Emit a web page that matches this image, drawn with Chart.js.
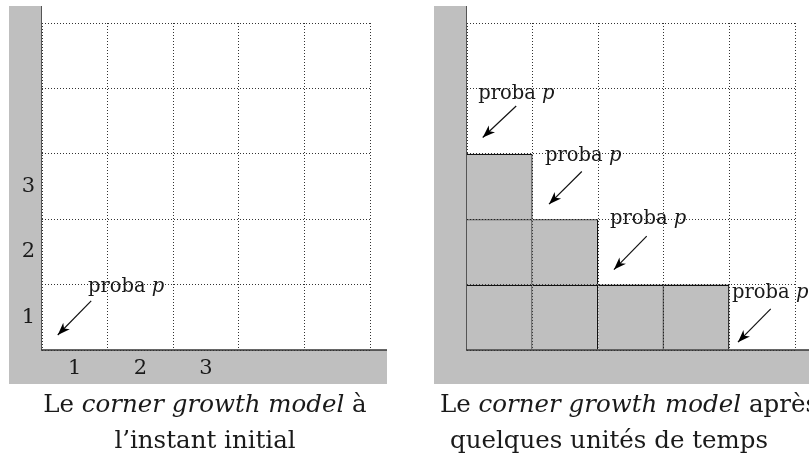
<!DOCTYPE html>
<html>
<head>
<meta charset="utf-8">
<script src="https://cdn.jsdelivr.net/npm/chart.js@4/dist/chart.umd.min.js"></script>
<style>
  html, body { margin:0; padding:0; background:#fff; }
  body { width:809px; height:464px; overflow:hidden; position:relative; font-family:"DejaVu Serif", serif; color:#1a1a1a; }
  canvas { position:absolute; top:0; }
  #cA { left:0; }
  #cB { left:420px; }
  .cap { position:absolute; font-size:24.5px; line-height:36px; height:36px; text-align:center; white-space:nowrap; }
  .l1 { top:386px; }
  .l2 { top:422px; }
  #capA1 { left:5px; width:400px; }
  #capA2 { left:5px; width:400px; }
  #capB1 { left:429px; width:400px; }
  #capB2 { left:409px; width:400px; }
</style>
</head>
<body>
<canvas id="cA" width="400" height="400"></canvas>
<canvas id="cB" width="389" height="400"></canvas>
<div class="cap l1" id="capA1">Le <i>corner growth model</i> à</div>
<div class="cap l2" id="capA2">l’instant initial</div>
<div class="cap l1" id="capB1">Le <i>corner growth model</i> après</div>
<div class="cap l2" id="capB2">quelques unités de temps</div>
<script>
// ---- data ----
const gridMax = 5;                       // 5 x 5 lattice of unit cells
const tickPositions = [0.5, 1.5, 2.5];   // label positions (cell centres)
const tickLabels = ['1', '2', '3'];
const initialHeights = [];               // column heights at t = 0
const laterHeights = [3, 2, 1, 1];       // column heights after some time
const initialArrowTails = [[0.75, 0.75]];
const initialArrowTips  = [[0.24, 0.23]];
const initialLabelPos   = [[0.70, 0.96]];
const laterArrowTails = [[0.75, 3.73], [1.75, 2.73], [2.74, 1.74], [4.63, 0.63]];
const laterArrowTips  = [[0.24, 3.25], [1.25, 2.23], [2.24, 1.23], [4.13, 0.12]];
const laterLabelPos   = [[0.17, 3.92], [1.19, 2.96], [2.18, 2.01], [4.04, 0.88]];
const labelWord = 'proba ';
const labelVar = 'p';

// ---- helpers ----
const GRAY = '#bfbfbf';
const FONT = '"DejaVu Serif", serif';

function cellRows(heights) {
  const rows = [];
  const maxH = Math.max(0, ...heights);
  for (let r = 1; r <= maxH; r++) {
    rows.push(heights.map((h, i) => h >= r ? {x: i + 0.5, y: [r - 1, r]} : null).filter(Boolean));
  }
  return rows;
}

function framePlugin(extendTop, extendRight) {
  return {
    id: 'frame',
    beforeDraw(chart) {
      const {ctx, chartArea: ca, scales} = chart;
      const yl = scales.yl, xl = scales.xl;
      const stripL = yl.left, stripB = xl.bottom;
      const top = ca.top - extendTop;
      const right = extendRight === null ? chart.width : ca.right + extendRight;
      ctx.save();
      ctx.fillStyle = GRAY;
      ctx.fillRect(stripL, top, ca.left - stripL, stripB - top);
      ctx.fillRect(stripL, ca.bottom, right - stripL, stripB - ca.bottom);
      ctx.restore();
    },
    afterDatasetsDraw(chart) {
      const {ctx, chartArea: ca} = chart;
      const right = extendRight === null ? chart.width : ca.right + extendRight;
      ctx.save();
      ctx.strokeStyle = '#555';
      ctx.lineWidth = 1;
      ctx.beginPath();
      ctx.moveTo(ca.left - 0.5, ca.top - extendTop);
      ctx.lineTo(ca.left - 0.5, ca.bottom);
      ctx.stroke();
      ctx.strokeStyle = '#333';
      ctx.lineWidth = 1.5;
      ctx.beginPath();
      ctx.moveTo(ca.left - 1, ca.bottom);
      ctx.lineTo(right, ca.bottom);
      ctx.stroke();
      ctx.restore();
    }
  };
}

function annotPlugin(labelPos) {
  return {
    id: 'annot',
    afterDatasetsDraw(chart) {
      const {ctx, scales} = chart;
      ctx.save();
      // arrow heads
      chart.data.datasets.forEach((ds, i) => {
        if (!ds.isArrow) return;
        const pts = chart.getDatasetMeta(i).data;
        const a = pts[0], b = pts[1];
        let dx = b.x - a.x, dy = b.y - a.y;
        const len = Math.hypot(dx, dy); dx /= len; dy /= len;
        const nx = -dy, ny = dx;
        const L = 12.5, W = 4.6;
        ctx.fillStyle = '#000';
        ctx.beginPath();
        ctx.moveTo(b.x, b.y);
        ctx.lineTo(b.x - dx * L + nx * W, b.y - dy * L + ny * W);
        ctx.lineTo(b.x - dx * L * 0.72, b.y - dy * L * 0.72);
        ctx.lineTo(b.x - dx * L - nx * W, b.y - dy * L - ny * W);
        ctx.closePath();
        ctx.fill();
      });
      // labels
      ctx.fillStyle = '#1a1a1a';
      ctx.textBaseline = 'middle';
      ctx.textAlign = 'left';
      labelPos.forEach(p => {
        const px = scales.x.getPixelForValue(p[0]);
        const py = scales.y.getPixelForValue(p[1]);
        ctx.font = '19.5px ' + FONT;
        ctx.fillText(labelWord, px, py);
        const w = ctx.measureText(labelWord).width;
        ctx.font = 'italic 19.5px ' + FONT;
        ctx.fillText(labelVar, px + w, py);
      });
      ctx.restore();
    }
  };
}

function buildChart(id, heights, tails, tips, labelPos, showTicks, padding, extendRight) {
  const datasets = [];
  cellRows(heights).forEach(rowData => datasets.push({
    type: 'bar', data: rowData, backgroundColor: GRAY, borderColor: '#111',
    borderWidth: {top: 1.3, right: 1.3, bottom: 0, left: 0}, borderSkipped: false,
    grouped: false, barPercentage: 1, categoryPercentage: 1, inflateAmount: 0,
    xAxisID: 'x', yAxisID: 'y'
  }));
  tails.forEach((t, i) => datasets.push({
    type: 'line', isArrow: true,
    data: [{x: t[0], y: t[1]}, {x: tips[i][0], y: tips[i][1]}],
    borderColor: '#111', borderWidth: 1.2, pointRadius: 0, fill: false, tension: 0,
    xAxisID: 'x', yAxisID: 'y'
  }));
  const gridAxis = (pos) => ({
    type: 'linear', position: pos, min: 0, max: gridMax, offset: false,
    ticks: {display: false, stepSize: 1},
    grid: {display: true, color: '#333', lineWidth: 1, drawTicks: false, offset: false},
    border: {display: false, dash: [1, 2]},
    afterFit: s => { if (pos === 'bottom') s.height = 0; else s.width = 0; }
  });
  const labelAxis = (pos) => ({
    type: 'linear', position: pos, min: 0, max: gridMax, offset: false,
    afterBuildTicks: s => { s.ticks = (showTicks ? tickPositions : []).map(v => ({value: v})); },
    ticks: {
      display: showTicks, autoSkip: false, maxRotation: 0, padding: pos === 'bottom' ? 19 : 7,
      crossAlign: 'center', color: '#1a1a1a', font: {family: FONT, size: 21},
      callback: (v, i) => tickLabels[i]
    },
    grid: {display: false, drawTicks: false},
    border: {display: false},
    afterFit: s => { if (pos === 'bottom') s.height = 34; else s.width = 33; }
  });
  return new Chart(document.getElementById(id), {
    type: 'bar',
    data: {datasets},
    options: {
      responsive: false, animation: false, events: [],
      layout: {padding},
      plugins: {legend: {display: false}, tooltip: {enabled: false}, title: {display: false}},
      scales: {
        x: gridAxis('bottom'),
        y: gridAxis('left'),
        xl: labelAxis('bottom'),
        yl: labelAxis('left')
      }
    },
    plugins: [framePlugin(17, extendRight), annotPlugin(labelPos)]
  });
}

buildChart('cA', initialHeights, initialArrowTails, initialArrowTips, initialLabelPos, true,
  {left: 9, top: 23, right: 30, bottom: 16}, 17);
buildChart('cB', laterHeights, laterArrowTails, laterArrowTips, laterLabelPos, false,
  {left: 14, top: 23, right: 14, bottom: 16}, null);
</script>
</body>
</html>
